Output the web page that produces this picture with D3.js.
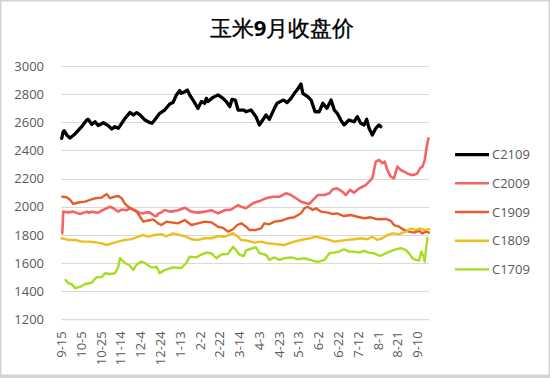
<!DOCTYPE html>
<html><head><meta charset="utf-8">
<script src="https://cdn.jsdelivr.net/npm/d3@7/dist/d3.min.js"></script>
<style>
html,body{margin:0;padding:0;background:#fff;}
svg{display:block;}
text{font-family:"Open Sans","Noto Sans",sans-serif;}
</style></head>
<body>
<svg id="chart" width="550" height="378"></svg>
<script>
const titleParts = [["玉米","500"],["9","bold"],["月收盘价","500"]];
const tickDays = [0,20,40,60,80,100,120,140,160,180,200,220,240,260,280,300,320,340,360];
const tickLabels = ["9-15","10-5","10-25","11-14","12-4","12-24","1-13","2-2","2-22","3-14","4-3","4-23","5-13","6-2","6-22","7-12","8-1","8-21","9-10"];
const yTicks = [1200,1400,1600,1800,2000,2200,2400,2600,2800,3000];
const seriesNames = ["C2109","C2009","C1909","C1809","C1709"];

const c2109 = [[0.7,2486],[2.3,2533],[3.3,2540],[5.8,2510],[9.1,2488],[14.2,2517],[20.9,2569],[26,2616],[27.6,2621],[31,2585],[34.4,2604],[37.7,2576],[42.8,2597],[47.8,2576],[51.3,2552],[54.6,2569],[57.9,2557],[61.4,2593],[64.7,2628],[69.8,2670],[73.1,2652],[76.5,2668],[79.9,2652],[84.9,2616],[90,2597],[92,2593],[94.7,2616],[99.8,2664],[104.8,2687],[109.9,2730],[113.2,2740],[116.6,2794],[120,2825],[121.6,2806],[125.1,2817],[127.7,2829],[130.1,2794],[133.5,2758],[138.5,2699],[141.8,2747],[145.3,2735],[146.9,2770],[148.6,2747],[153.7,2777],[158.7,2794],[163.8,2770],[167.1,2747],[170.6,2711],[172.9,2763],[176.2,2758],[179,2687],[185,2687],[187,2675],[192.1,2687],[197.1,2640],[200.5,2581],[203.9,2616],[207.3,2652],[210.6,2621],[215.7,2699],[218.4,2735],[221.7,2747],[225.1,2758],[228.5,2740],[232.5,2770],[235.9,2806],[238.6,2829],[242.6,2872],[244.4,2806],[249.4,2782],[252.8,2758],[256.8,2675],[261.1,2675],[264.6,2735],[268.9,2699],[273,2758],[276.3,2687],[279.3,2664],[282.8,2616],[286.1,2581],[291.2,2616],[296.2,2604],[299.6,2640],[303,2593],[306.3,2581],[309,2621],[311.4,2557],[314.7,2510],[318.2,2557],[321.5,2581],[323.2,2569]];

const c2009 = [[1.3,1811],[2.3,1965],[7.1,1960],[12.4,1965],[19.2,1948],[26,1965],[27.6,1958],[31,1965],[34.4,1960],[37.7,1958],[41.1,1972],[46.2,1989],[49.5,2000],[52.9,1989],[57.9,1965],[61.4,1980],[66.4,1975],[69.8,1989],[74.8,1975],[79.9,1955],[83.2,1953],[87,1960],[90,1958],[94.7,1934],[96.8,1934],[98.1,1950],[101.1,1958],[104.8,1977],[111.2,1965],[118.3,1975],[125.1,1993],[131.7,1965],[138.5,1958],[145.3,1965],[152,1975],[158.7,1953],[165.5,1975],[172.2,1980],[179,2012],[182.3,2000],[187,1989],[193.8,2024],[200.5,2040],[207.3,2060],[214,2071],[220.7,2071],[227.5,2095],[232.5,2083],[237.6,2060],[242.6,2036],[248.4,2024],[251,2020],[254.8,2048],[259.5,2083],[266.2,2083],[271.3,2095],[274.7,2124],[279,2131],[284.4,2107],[287.8,2083],[292.2,2120],[296.2,2100],[301.5,2131],[304.6,2142],[308,2154],[311.4,2178],[314.7,2202],[318.2,2320],[321.5,2332],[324.8,2310],[327.3,2320],[329.9,2261],[333.3,2214],[336.6,2202],[340,2285],[343.4,2261],[346.8,2249],[350.1,2237],[353.5,2226],[356.9,2226],[360.2,2237],[363,2273],[365.4,2285],[367.7,2332],[369.7,2427],[371.4,2486]];

const c1909 = [[1.3,2071],[5.8,2067],[9.1,2050],[12.4,2020],[17.5,2030],[24.3,2036],[29.3,2048],[34.4,2060],[41.1,2065],[46.2,2090],[49.5,2060],[53.9,2071],[57.9,2076],[61.4,2060],[64.7,2020],[68,2000],[73.1,1977],[76.5,1965],[79.9,1929],[83.2,1894],[86.6,1900],[91,1906],[93,1910],[98.1,1882],[101.4,1870],[106.5,1894],[111.5,1889],[118.3,1882],[125.1,1906],[131.7,1870],[138.5,1882],[145.3,1894],[152,1889],[158.7,1858],[163.8,1850],[168.8,1823],[173.9,1840],[178.2,1870],[182.3,1882],[187,1858],[190.4,1835],[197.1,1835],[202.2,1846],[205.5,1882],[210.6,1875],[215.7,1894],[222.4,1900],[229.2,1918],[235.9,1925],[242.6,1953],[246,1989],[249.4,2000],[254.5,1977],[257.8,1989],[262.9,1965],[269.6,1958],[274.7,1948],[279,1953],[286.1,1934],[292.9,1941],[299.6,1929],[306.3,1918],[313.1,1925],[319.8,1911],[328.3,1913],[333.3,1900],[336.6,1870],[341.7,1858],[346.8,1835],[351.8,1823],[356.9,1816],[361.9,1830],[365.3,1810],[368.7,1823],[372,1816]];

const c1809 = [[0.7,1776],[7.4,1764],[14.2,1764],[20.9,1752],[27.6,1752],[34.4,1748],[41.1,1740],[46.2,1728],[51.3,1740],[57.9,1752],[64.7,1764],[71.5,1770],[78.2,1787],[83.2,1799],[88,1787],[94.7,1799],[101.4,1805],[106.5,1790],[113.2,1811],[120,1799],[126.7,1787],[131.7,1769],[138.5,1764],[145.3,1776],[152,1776],[158.7,1792],[165.5,1787],[173.9,1811],[179,1787],[182,1764],[188.8,1758],[195.4,1745],[202.2,1752],[209,1740],[215.7,1735],[225.8,1728],[232.5,1745],[239.3,1758],[246,1769],[251.7,1776],[257.8,1787],[264.6,1776],[271.3,1764],[276,1752],[282.8,1758],[289.5,1764],[296.2,1769],[303,1776],[309.7,1769],[314.7,1787],[319.8,1764],[324.8,1776],[329.9,1799],[335,1811],[341.7,1805],[348.5,1823],[353.5,1846],[358.6,1835],[363,1846],[367,1835],[372,1840]];

const c1709 = [[4.7,1479],[7.4,1456],[10.8,1450],[14.2,1421],[19.2,1430],[24.3,1451],[31,1460],[36.1,1500],[41.1,1500],[44.5,1527],[49.5,1522],[54.6,1527],[57.9,1574],[59.6,1634],[64.7,1600],[68.7,1586],[73.1,1551],[76.5,1590],[81.6,1610],[84.9,1600],[91,1569],[94.7,1569],[96.8,1574],[99.8,1527],[104.8,1550],[113.2,1569],[121.6,1565],[126.7,1600],[130.1,1645],[136.8,1640],[141.9,1660],[146.9,1674],[152,1669],[157,1634],[162.1,1660],[168.8,1665],[173.9,1716],[177.2,1690],[180.7,1657],[185,1650],[187,1690],[193.8,1705],[197.1,1712],[200.5,1670],[207.3,1657],[210.6,1622],[215.7,1640],[220.7,1622],[225.8,1634],[232.5,1640],[239.3,1627],[246,1634],[251.7,1622],[257.8,1610],[261.1,1610],[266.2,1622],[271.3,1669],[276,1674],[281,1681],[286.1,1698],[291.2,1681],[296.2,1681],[301.5,1674],[306.3,1686],[311.4,1674],[316.4,1669],[322.5,1650],[329.9,1674],[336.6,1693],[343.4,1705],[348.5,1693],[351.8,1669],[355.2,1634],[358.6,1622],[361.9,1617],[364.2,1681],[366.2,1650],[367.7,1610],[369,1700],[370.4,1776]];

const seriesData = [c2109, c2009, c1909, c1809, c1709];
const colors = ["#000000","#F26466","#E65C2C","#EBBF1C","#A5DD22"];
const widths = [3.3, 2.6, 2.4, 2.4, 2.4];

const svg = d3.select("#chart");
// outer border
svg.append("rect").attr("x",0).attr("y",0).attr("width",550).attr("height",378).attr("fill","#d4d4d4");
svg.append("rect").attr("x",1.5).attr("y",1.5).attr("width",547).attr("height",373).attr("fill","#ffffff");

const x = d3.scaleLinear().domain([0,372]).range([61,429]);
const y = d3.scaleLinear().domain([1200,3000]).range([319.3,66]);

// gridlines
svg.append("g").selectAll("line").data(yTicks).join("line")
  .attr("x1",x.range()[0]).attr("x2",x.range()[1])
  .attr("y1",d=>Math.round(y(d))+0.5).attr("y2",d=>Math.round(y(d))+0.5)
  .attr("stroke","#D9D9D9").attr("stroke-width",1);

// y axis
const yAxis = svg.append("g").attr("transform",`translate(${x.range()[0]},0)`)
  .call(d3.axisLeft(y).tickValues(yTicks).tickSize(0).tickPadding(17).tickFormat(d3.format("d")));
yAxis.select(".domain").remove();
yAxis.selectAll("text").attr("font-size",13).attr("fill","#595959")
  .attr("font-family","'Open Sans','Noto Sans',sans-serif");

// x axis
const xAxis = svg.append("g").attr("transform",`translate(0,${y(1200)})`)
  .call(d3.axisBottom(x).tickValues(tickDays).tickSize(0).tickFormat((d,i)=>tickLabels[i]));
xAxis.select(".domain").attr("stroke","#D9D9D9");
xAxis.selectAll("text")
  .attr("transform","rotate(-90)")
  .attr("text-anchor","end")
  .attr("x",-12).attr("y",0).attr("dy","0.35em")
  .attr("font-size",13).attr("fill","#595959")
  .attr("font-family","'Open Sans','Noto Sans',sans-serif");

// lines
const line = d3.line().x(d=>x(d[0])).y(d=>y(d[1])).curve(d3.curveLinear);
seriesData.forEach((s,i)=>{
  svg.append("path").datum(s).attr("d",line)
    .attr("fill","none").attr("stroke",colors[i]).attr("stroke-width",widths[i])
    .attr("stroke-linejoin","round").attr("stroke-linecap","round");
});

// title
const tt = svg.append("text").attr("x",282).attr("y",36).attr("text-anchor","middle")
  .attr("font-family","'Noto Sans CJK SC',sans-serif")
  .attr("font-size",22).attr("fill","#000");
titleParts.forEach(p=>{
  tt.append("tspan").attr("font-weight",p[1]).attr("stroke", p[1]==="500" ? "#000" : "none")
    .attr("stroke-width", p[1]==="500" ? 0.35 : 0).text(p[0]);
});

// legend
const lg = svg.append("g");
seriesNames.forEach((n,i)=>{
  const ly = 154.6 + i*28.7;
  lg.append("line").attr("x1",455).attr("x2",489).attr("y1",ly).attr("y2",ly)
    .attr("stroke",colors[i]).attr("stroke-width",widths[i]);
  lg.append("text").attr("x",492).attr("y",ly).attr("dy","0.35em")
    .attr("font-size",13).attr("fill","#595959")
    .attr("font-family","'Open Sans','Noto Sans',sans-serif").text(n);
});
</script>
</body></html>
